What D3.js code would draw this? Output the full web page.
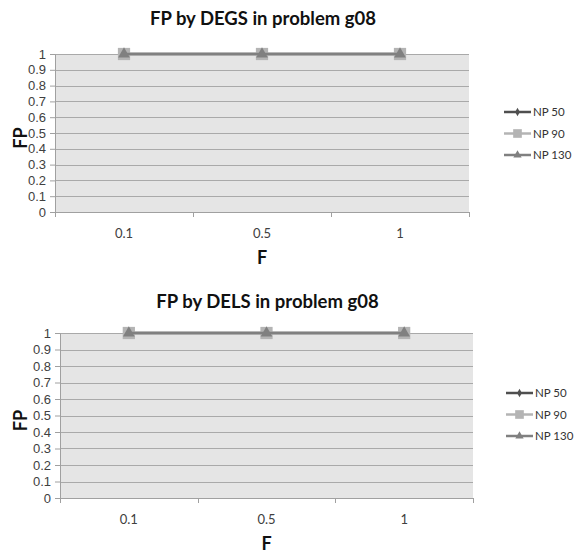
<!DOCTYPE html>
<html lang='en'>
    <head>
        <meta charset='utf-8'>
        <title>FP by F in problem g08</title>
        <script src="https://d3js.org/d3.v7.min.js" charset='utf-8'></script>
        <style type='text/css'>
            body {
                margin: 0;
                background: #ffffff;
            }
            svg {
                display: block;
                font-family: Lato, 'Open Sans', sans-serif;
            }
            .grid line {
                stroke: #a9a9a9;
                stroke-width: 1;
            }
            .axis text {
                fill: #404040;
                font-size: 13px;
            }
            .axis path, .axis line {
                stroke: #a0a0a0;
            }
            .title {
                font-weight: bold;
                font-size: 18.5px;
                fill: #111;
            }
            .axis-label {
                font-weight: bold;
                font-size: 18px;
                fill: #111;
            }
            .legend text {
                font-size: 11.5px;
                fill: #333;
            }
        </style>
    </head>
    <body>
        <script type='text/javascript'>
            // data
            var categories = ['0.1', '0.5', '1'];
            var seriesNames = ['NP 50', 'NP 90', 'NP 130'];
            var degsNP50 = [1, 1, 1];
            var degsNP90 = [1, 1, 1];
            var degsNP130 = [1, 1, 1];
            var delsNP50 = [1, 1, 1];
            var delsNP90 = [1, 1, 1];
            var delsNP130 = [1, 1, 1];
            var yTicks = [0, 0.1, 0.2, 0.3, 0.4, 0.5, 0.6, 0.7, 0.8, 0.9, 1];
            var titles = ['FP by DEGS in problem g08', 'FP by DELS in problem g08'];

            var colors = ['#4f4f4f', '#b4b4b4', '#808080'];
            var symbols = [d3.symbolDiamond, d3.symbolSquare, d3.symbolTriangle];
            var symbolSizes = [40, 150, 60];

            var svg = d3.select('body')
                .append('svg')
                .attr('width', 575)
                .attr('height', 555);

            var layouts = [
                {left: 55, right: 469, top: 54, bottom: 212, titleY: 25, legendX: 504, legendY: 112},
                {left: 60, right: 473, top: 333, bottom: 498, titleY: 308, legendX: 506, legendY: 393}
            ];

            function drawChart(lay, title, series) {
                var g = svg.append('g');
                var x = d3.scaleBand().domain(categories).range([lay.left, lay.right]);
                var y = d3.scaleLinear().domain([0, 1]).range([lay.bottom, lay.top]);

                g.append('rect')
                    .attr('x', lay.left)
                    .attr('y', lay.top)
                    .attr('width', lay.right - lay.left)
                    .attr('height', lay.bottom - lay.top)
                    .attr('fill', '#e5e5e5');

                g.append('g')
                    .attr('class', 'grid')
                    .selectAll('line')
                    .data(yTicks.slice(1))
                    .enter()
                    .append('line')
                    .attr('x1', lay.left)
                    .attr('x2', lay.right)
                    .attr('y1', function(d) { return Math.round(y(d)) + 0.5; })
                    .attr('y2', function(d) { return Math.round(y(d)) + 0.5; });

                // y axis
                g.append('g')
                    .attr('class', 'axis')
                    .attr('transform', 'translate(' + lay.left + ',0)')
                    .call(d3.axisLeft(y).tickValues(yTicks).tickSize(5).tickPadding(4)
                        .tickFormat(d3.format('~g')));

                // x axis: ticks on band edges, labels on band centres
                var edges = categories.map(function(c) { return x(c); }).concat([lay.right]);
                var xg = g.append('g').attr('class', 'axis');
                xg.append('line')
                    .attr('x1', lay.left).attr('x2', lay.right)
                    .attr('y1', lay.bottom + 0.5).attr('y2', lay.bottom + 0.5);
                xg.selectAll('.edge')
                    .data(edges)
                    .enter()
                    .append('line')
                    .attr('class', 'edge')
                    .attr('x1', function(d) { return Math.round(d) + 0.5; })
                    .attr('x2', function(d) { return Math.round(d) + 0.5; })
                    .attr('y1', lay.bottom)
                    .attr('y2', lay.bottom + 5);
                xg.selectAll('text')
                    .data(categories)
                    .enter()
                    .append('text')
                    .attr('x', function(d) { return x(d) + x.bandwidth() / 2; })
                    .attr('y', lay.bottom + 26)
                    .attr('text-anchor', 'middle')
                    .text(function(d) { return d; });

                // series
                var line = d3.line()
                    .x(function(d, i) { return x(categories[i]) + x.bandwidth() / 2; })
                    .y(function(d) { return y(d); });
                series.forEach(function(vals, s) {
                    g.append('path')
                        .datum(vals)
                        .attr('d', line)
                        .attr('fill', 'none')
                        .attr('stroke', colors[s])
                        .attr('stroke-width', 2.5);
                    g.selectAll('.m' + s)
                        .data(vals)
                        .enter()
                        .append('path')
                        .attr('class', 'm' + s)
                        .attr('d', d3.symbol().type(symbols[s]).size(symbolSizes[s]))
                        .attr('fill', colors[s])
                        .attr('transform', function(d, i) {
                            return 'translate(' + (x(categories[i]) + x.bandwidth() / 2) + ',' + y(d) + ')';
                        });
                });

                // titles
                g.append('text')
                    .attr('class', 'title')
                    .attr('x', (lay.left + lay.right) / 2 + 1)
                    .attr('y', lay.titleY)
                    .attr('text-anchor', 'middle')
                    .text(title);
                g.append('text')
                    .attr('class', 'axis-label')
                    .attr('x', (lay.left + lay.right) / 2)
                    .attr('y', lay.bottom + 52)
                    .attr('text-anchor', 'middle')
                    .text('F');
                g.append('text')
                    .attr('class', 'axis-label')
                    .attr('transform', 'translate(27,' + ((lay.top + lay.bottom) / 2 + 5) + ') rotate(-90)')
                    .attr('text-anchor', 'middle')
                    .text('FP');

                // legend
                var leg = g.append('g').attr('class', 'legend');
                seriesNames.forEach(function(name, s) {
                    var ly = lay.legendY + s * 21.5;
                    leg.append('line')
                        .attr('x1', lay.legendX).attr('x2', lay.legendX + 27)
                        .attr('y1', ly).attr('y2', ly)
                        .attr('stroke', colors[s])
                        .attr('stroke-width', 2.5);
                    leg.append('path')
                        .attr('d', d3.symbol().type(symbols[s]).size(symbolSizes[s] * 0.5))
                        .attr('fill', colors[s])
                        .attr('transform', 'translate(' + (lay.legendX + 13.5) + ',' + ly + ')');
                    leg.append('text')
                        .attr('x', lay.legendX + 29)
                        .attr('y', ly + 4)
                        .text(name);
                });
            }

            drawChart(layouts[0], titles[0], [degsNP50, degsNP90, degsNP130]);
            drawChart(layouts[1], titles[1], [delsNP50, delsNP90, delsNP130]);
        </script>
    </body>
</html>
